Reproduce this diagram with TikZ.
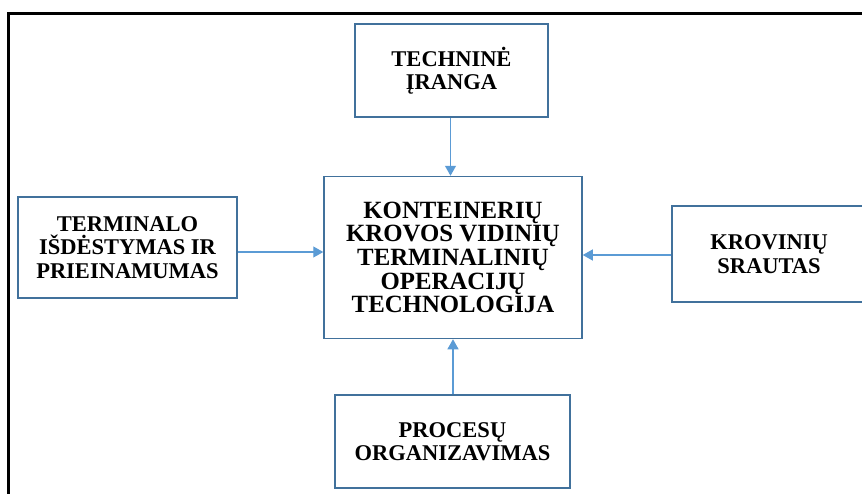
\documentclass[tikz,border=0pt]{standalone}
\usepackage{fontspec}
\setmainfont{Liberation Serif}
\usetikzlibrary{arrows.meta}
\definecolor{boxline}{RGB}{65,113,156}
\definecolor{arrline}{RGB}{91,155,213}
\begin{document}
\begin{tikzpicture}[x=1pt,y=-1pt,
  box/.style={draw=boxline,line width=1.5pt,fill=white,inner sep=0pt,align=center,
    font=\fontsize{22.5}{23.5}\selectfont\bfseries},
  bigbox/.style={box,font=\fontsize{24.8}{23.7}\selectfont\bfseries},
  conn/.style={draw=arrline,line width=1.2pt,-{Triangle[length=10pt,width=11pt]}}]
\useasboundingbox (0,0) rectangle (862,493);
\clip (0,0) rectangle (862,493);
\draw[line width=3pt] (8,495) -- (8,13) -- (864,13);
\node[bigbox,minimum width=258pt,minimum height=162pt] (c) at (453,257.5)
  {KONTEINERIŲ\\KROVOS VIDINIŲ\\TERMINALINIŲ\\OPERACIJŲ\\TECHNOLOGIJA};
\node[box,minimum width=193pt,minimum height=93pt] (t) at (451.5,70.5)
  {TECHNINĖ\\ĮRANGA};
\node[box,minimum width=219pt,minimum height=101pt] (l) at (127.5,247.5)
  {TERMINALO\\IŠDĖSTYMAS IR\\PRIEINAMUMAS};
\node[box,minimum width=194pt,minimum height=96pt] (r) at (769,254)
  {KROVINIŲ\\SRAUTAS};
\node[box,minimum width=235pt,minimum height=93pt] (b) at (452.5,441.5)
  {PROCESŲ\\ORGANIZAVIMAS};
\draw[conn] (t.south -| 450.5,0) -- (c.north -| 450.5,0);
\draw[conn] (l.east |- 0,252) -- (c.west |- 0,252);
\draw[conn] (r.west |- 0,255) -- (c.east |- 0,255);
\draw[conn] (b.north -| 453,0) -- (c.south -| 453,0);
\end{tikzpicture}
\end{document}
